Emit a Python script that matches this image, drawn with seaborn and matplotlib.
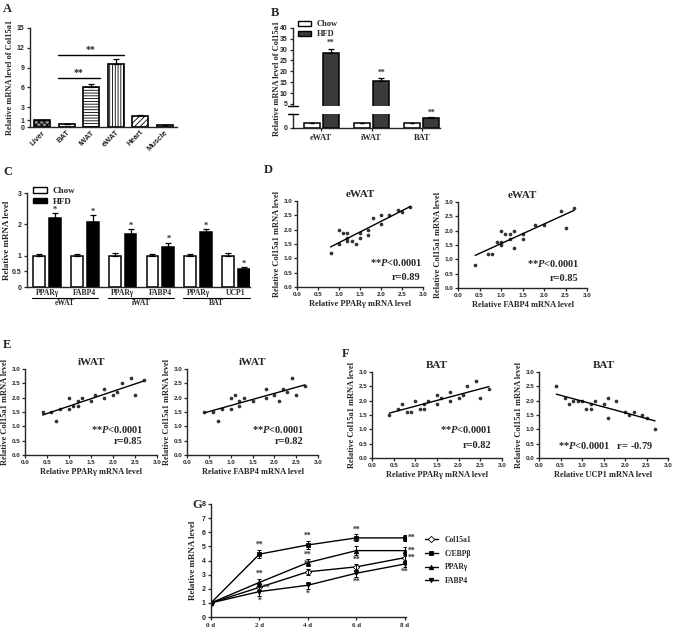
import matplotlib
matplotlib.use("Agg")
import matplotlib.pyplot as plt
import seaborn as sns
import numpy as np
import pandas as pd
from matplotlib.patches import Patch
from matplotlib.lines import Line2D
from matplotlib.transforms import blended_transform_factory

sns.set_theme(style="ticks")
plt.rcParams['font.family'] = ['Liberation Serif', 'DejaVu Serif']
plt.rcParams['font.weight'] = 'bold'
plt.rcParams['axes.labelweight'] = 'bold'
plt.rcParams['axes.titleweight'] = 'bold'
plt.rcParams['axes.linewidth'] = 1.0
plt.rcParams['hatch.linewidth'] = 0.6
plt.rcParams['xtick.major.size'] = 2.5
plt.rcParams['ytick.major.size'] = 2.5
plt.rcParams['xtick.major.width'] = 0.9
plt.rcParams['ytick.major.width'] = 0.9
plt.rcParams['xtick.major.pad'] = 1.5
plt.rcParams['ytick.major.pad'] = 1.5
plt.rcParams['mathtext.fontset'] = 'custom'
plt.rcParams['mathtext.it'] = 'Liberation Serif:italic:bold'
plt.rcParams['mathtext.rm'] = 'Liberation Serif:bold'

SANS = 'Liberation Sans'
HFD_GRAY = '#3a3a3a'

# ---- Panel A: tissue distribution of Col15a1
A_TISSUES = ['Liver', 'BAT', 'iWAT', 'eWAT', 'Heart', 'Muscle']
A_VALUES = [1.0, 0.4, 6.0, 9.5, 1.6, 0.3]
A_ERR = [0.1, 0.06, 0.45, 0.8, 0.15, 0.05]
A_HATCH = ['xxxxxx', '.....', '------', '||||||', '//////', '.....']
A_FILL = ['#8a8a8a', 'white', 'white', 'white', 'white', 'white']
A_YTICKS = [0, 1, 3, 6, 9, 12, 15]

# ---- Panel B: Chow vs HFD Col15a1
B_TISSUES = ['eWAT', 'iWAT', 'BAT']
B_CHOW = [1.0, 1.0, 1.0]
B_CHOW_ERR = [0.05, 0.05, 0.05]
B_HFD = [28.5, 15.5, 2.1]
B_HFD_ERR = [2.0, 1.2, 0.2]

# ---- Panel C: marker genes Chow vs HFD
C_DEPOTS = ['eWAT', 'iWAT', 'BAT']
C_GENES = ['PPARγ', 'FABP4', 'PPARγ', 'FABP4', 'PPARγ', 'UCP1']
C_CHOW = [1.0, 0.98, 0.99, 1.0, 0.98, 1.0]
C_CHOW_ERR = [0.05, 0.08, 0.08, 0.05, 0.08, 0.08]
C_HFD = [2.2, 2.08, 1.68, 1.27, 1.75, 0.57]
C_HFD_ERR = [0.16, 0.22, 0.17, 0.15, 0.1, 0.07]

# ---- Panels D-F: correlations with Col15a1
D1_X = [0.8, 1.0, 1.0, 1.1, 1.2, 1.2, 1.2, 1.3, 1.4, 1.5, 1.5, 1.7, 1.7, 1.8, 2.0, 2.0, 2.2, 2.4, 2.5, 2.7]
D1_Y = [1.2, 2.0, 1.5, 1.9, 1.9, 1.7, 1.6, 1.6, 1.5, 1.9, 1.7, 2.0, 1.8, 2.4, 2.5, 2.2, 2.5, 2.7, 2.6, 2.8]
D2_X = [0.4, 0.7, 0.8, 0.9, 1.0, 1.0, 1.0, 1.1, 1.2, 1.2, 1.3, 1.3, 1.5, 1.5, 1.8, 2.0, 2.4, 2.5, 2.7]
D2_Y = [0.8, 1.2, 1.2, 1.6, 2.0, 1.5, 1.6, 1.9, 1.9, 1.7, 2.0, 1.4, 1.9, 1.7, 2.2, 2.2, 2.7, 2.1, 2.8]
E1_X = [0.4, 0.6, 0.7, 0.8, 1.0, 1.0, 1.1, 1.2, 1.2, 1.3, 1.5, 1.6, 1.8, 1.8, 2.0, 2.1, 2.2, 2.4, 2.5, 2.7]
E1_Y = [1.5, 1.5, 1.2, 1.6, 2.0, 1.6, 1.7, 1.7, 1.9, 2.0, 1.9, 2.1, 2.3, 2.0, 2.1, 2.2, 2.5, 2.7, 2.1, 2.6]
E2_X = [0.4, 0.6, 0.7, 0.8, 1.0, 1.0, 1.1, 1.2, 1.2, 1.3, 1.5, 1.8, 1.8, 2.0, 2.1, 2.2, 2.3, 2.4, 2.5, 2.7]
E2_Y = [1.5, 1.5, 1.2, 1.6, 2.0, 1.6, 2.1, 1.7, 1.9, 2.0, 1.9, 2.3, 2.0, 2.1, 1.9, 2.3, 2.2, 2.7, 2.1, 2.4]
F1_X = [0.4, 0.6, 0.7, 0.8, 0.9, 1.0, 1.1, 1.2, 1.2, 1.3, 1.5, 1.5, 1.6, 1.8, 1.8, 2.0, 2.1, 2.2, 2.4, 2.5, 2.7]
F1_Y = [1.5, 1.7, 1.9, 1.6, 1.6, 2.0, 1.7, 1.7, 1.9, 2.0, 1.9, 2.2, 2.1, 2.3, 2.0, 2.1, 2.2, 2.5, 2.7, 2.1, 2.4]
F2_X = [0.4, 0.6, 0.7, 0.8, 0.9, 1.0, 1.1, 1.2, 1.2, 1.3, 1.5, 1.6, 1.6, 1.8, 2.0, 2.1, 2.2, 2.4, 2.5, 2.7]
F2_Y = [2.5, 2.1, 1.9, 2.0, 2.0, 2.0, 1.7, 1.7, 1.9, 2.0, 1.9, 2.1, 1.4, 2.0, 1.6, 1.5, 1.6, 1.5, 1.4, 1.0]

# ---- Panel G: differentiation time course
G_DAYS = [0, 2, 4, 6, 8]
G_DAY_LABELS = ['0 d', '2 d', '4 d', '6 d', '8 d']
G_GENES = ['Col15a1', 'C/EBPβ', 'PPARγ', 'FABP4']
G_COL15A1 = [1.0, 2.1, 3.2, 3.55, 4.2]
G_CEBPB = [1.0, 4.45, 5.1, 5.6, 5.6]
G_PPARG = [1.0, 2.45, 3.85, 4.7, 4.7]
G_FABP4 = [1.0, 1.8, 2.25, 3.1, 3.75]
G_COL15A1_ERR = [0.05, 0.2, 0.2, 0.2, 0.2]
G_CEBPB_ERR = [0.05, 0.3, 0.3, 0.25, 0.2]
G_PPARG_ERR = [0.05, 0.25, 0.25, 0.3, 0.25]
G_FABP4_ERR = [0.05, 0.3, 0.25, 0.25, 0.2]
G_MARKERS = ['D', 's', '^', 'v']
G_FACES = ['white', 'black', 'black', 'black']
# significance marks: (gene index, day index, text, where)
G_STARS = [(1, 1, '**', 'above'), (2, 1, '**', 'above'), (0, 1, '**', 'right'), (3, 1, '*', 'below'),
           (1, 2, '**', 'above'), (2, 2, '**', 'above'), (0, 2, '**', 'above'), (3, 2, '*', 'below'),
           (1, 3, '**', 'above'), (2, 3, '**', 'above'), (0, 3, '**', 'above'), (3, 3, '**', 'below'),
           (1, 4, '**', 'right'), (2, 4, '**', 'right'), (0, 4, '**', 'right'), (3, 4, '**', 'below')]

W, H = 675, 633
fig = plt.figure(figsize=(W / 100, H / 100), dpi=100)


def px_axes(x0, y0, x1, y1):
    """Axes placed by pixel box (left, top, right, bottom)."""
    return fig.add_axes([x0 / W, 1 - y1 / H, (x1 - x0) / W, (y1 - y0) / H])


def sans_ticks(ax, size=5, which='both'):
    labels = []
    if which in ('both', 'x'):
        labels += ax.get_xticklabels()
    if which in ('both', 'y'):
        labels += ax.get_yticklabels()
    for lab in labels:
        lab.set_family(SANS)
        lab.set_fontsize(size)
        lab.set_fontweight('bold')


def panel_label(x, y, s):
    fig.text(x / W, 1 - y / H, s, fontsize=9, fontweight='bold', ha='left', va='center')


def fig_ylabel(x, y, s, size=6):
    fig.text(x / W, 1 - y / H, s, rotation=90, ha='center', va='center',
             fontsize=size, fontweight='bold')


def up_errors(ax, bars, values, errs, cap=2.0):
    xs = [b.get_x() + b.get_width() / 2 for b in bars]
    ax.errorbar(xs, values, yerr=[np.zeros(len(values)), errs], fmt='none',
                ecolor='black', elinewidth=0.9, capsize=cap, capthick=0.9, zorder=1)
    return xs


def box_legend(ax, colors, anchor, size=6):
    handles = [Patch(facecolor=c, edgecolor='black', lw=1.0, label=lab)
               for lab, c in colors]
    ax.legend(handles=handles, loc='upper left', bbox_to_anchor=anchor, frameon=False,
              fontsize=size, handlelength=1.6, handleheight=0.55, handletextpad=0.6,
              labelspacing=0.25, borderpad=0, borderaxespad=0)


# ================= A
axA = px_axes(30, 28, 177, 127)
sns.barplot(x=A_TISSUES, y=A_VALUES, ax=axA, color='white', edgecolor='black',
            linewidth=1.2, width=0.66, errorbar=None)
for bar, h, fc in zip(axA.patches, A_HATCH, A_FILL):
    bar.set_hatch(h)
    bar.set_facecolor(fc)
xa = up_errors(axA, axA.patches, A_VALUES, A_ERR, cap=2.5)
axA.set_xlim(-0.5, 5.5)
axA.set_ylim(0, 15)
axA.set_yticks(A_YTICKS)
axA.set_ylabel('Relative mRNA level of Col15a1', fontsize=6, labelpad=2)
axA.tick_params(axis='x', length=0)
plt.setp(axA.get_xticklabels(), rotation=45, ha='right', rotation_mode='anchor')
sans_ticks(axA, 5, 'y')
sans_ticks(axA, 5.5, 'x')
sns.despine(ax=axA)
# significance brackets
for i_from, i_to, level in [(1, 2, 7.4), (1, 3, 10.9)]:
    x0, x1 = xa[i_from] - 0.37, xa[i_to] + 0.34
    axA.plot([x0, x1], [level, level], color='black', lw=1.0)
    axA.text((x0 + x1) / 2, level + 0.2, '**', ha='center', va='bottom', fontsize=7)
panel_label(3, 9, 'A')

# ================= B (broken axis)
dfB = pd.DataFrame({'tissue': B_TISSUES * 2,
                    'group': ['Chow'] * 3 + ['HFD'] * 3,
                    'value': B_CHOW + B_HFD})
axB_top = px_axes(293, 28, 440, 106)
axB_bot = px_axes(293, 114, 440, 128)
for ax in (axB_top, axB_bot):
    sns.barplot(data=dfB, x='tissue', y='value', hue='group', ax=ax,
                palette={'Chow': 'white', 'HFD': HFD_GRAY}, edgecolor='black',
                linewidth=1.1, width=0.76, gap=0.16, errorbar=None, legend=False)
    ax.set_xlim(-0.56, 2.36)
    ax.set_xlabel('')
    ax.set_ylabel('')
    sns.despine(ax=ax)
axB_top.set_ylim(4, 40)
axB_top.set_yticks(range(5, 41, 5))
axB_top.spines['bottom'].set_visible(False)
axB_top.tick_params(axis='x', which='both', bottom=False, labelbottom=False)
axB_bot.set_ylim(0, 3)
axB_bot.set_yticks([0, 3])
axB_bot.set_yticklabels(['0', ''])
sans_ticks(axB_top, 5, 'y')
sans_ticks(axB_bot, 5, 'y')
for lab in axB_bot.get_xticklabels():
    lab.set_fontsize(6)
hfd_top = axB_top.containers[1]
hfd_bot = axB_bot.containers[1]
xb = up_errors(axB_top, hfd_top, B_HFD, B_HFD_ERR)
up_errors(axB_bot, hfd_bot, B_HFD, B_HFD_ERR)
up_errors(axB_bot, axB_bot.containers[0], B_CHOW, B_CHOW_ERR, cap=1.5)
for i in range(2):
    axB_top.text(xb[i], B_HFD[i] + B_HFD_ERR[i] + 0.6, '**', ha='center', va='bottom', fontsize=5.5)
axB_bot.text(xb[2], B_HFD[2] + B_HFD_ERR[2] + 0.1, '**', ha='center', va='bottom', fontsize=5.5)
for ax, yy in ((axB_top, 0), (axB_bot, 1)):
    ax.plot([-0.035, 0.035], [yy, yy], transform=ax.transAxes, color='black', lw=1.0, clip_on=False)
box_legend(axB_top, [('Chow', 'white'), ('HFD', HFD_GRAY)], (0.035, 1.10), size=6)
fig_ylabel(277, 78, 'Relative mRNA level of Col15a1')
panel_label(271, 13, 'B')

# ================= C
slots = [f'{C_DEPOTS[i // 2]}-{g}' for i, g in enumerate(C_GENES)]
dfC = pd.DataFrame({'slot': slots * 2,
                    'group': ['Chow'] * 6 + ['HFD'] * 6,
                    'value': C_CHOW + C_HFD})
axC = px_axes(27, 193, 250, 287)
sns.barplot(data=dfC, x='slot', y='value', hue='group', ax=axC, order=slots,
            palette={'Chow': 'white', 'HFD': 'black'}, edgecolor='black',
            linewidth=1.1, width=0.84, gap=0.26, errorbar=None, legend=False)
up_errors(axC, axC.containers[0], C_CHOW, C_CHOW_ERR, cap=2.0)
xc = up_errors(axC, axC.containers[1], C_HFD, C_HFD_ERR, cap=2.0)
for x, v, e in zip(xc, C_HFD, C_HFD_ERR):
    axC.text(x, v + e - 0.02, '*', ha='center', va='bottom', fontsize=6)
axC.set_xlim(-0.53, 5.37)
axC.set_ylim(0, 3)
axC.set_yticks([0, 0.5, 1, 2, 3])
axC.set_yticklabels(['0', '0.5', '1', '2', '3'])
axC.set_xticks(range(6))
axC.set_xticklabels(C_GENES, fontsize=5.5)
axC.tick_params(axis='x', length=0, pad=1.5)
axC.set_xlabel('')
axC.set_ylabel('')
sans_ticks(axC, 5, 'y')
sns.despine(ax=axC)
trC = blended_transform_factory(axC.transData, axC.transAxes)
for i, depot in enumerate(C_DEPOTS):
    x0, x1 = 2 * i - 0.4, 2 * i + 1 + 0.36
    axC.plot([x0, x1], [-0.115, -0.115], transform=trC, color='black', lw=0.8, clip_on=False)
    axC.text((x0 + x1) / 2, -0.13, depot, transform=trC, ha='center', va='top', fontsize=5.5)
box_legend(axC, [('Chow', 'white'), ('HFD', 'black')], (0.025, 1.06), size=6.5)
fig_ylabel(7, 240, 'Relative mRNA level', size=6.5)
panel_label(3, 172, 'C')


# ================= D-F scatter panels
def scatter_panel(box, xs, ys, title, xlabel, texts):
    ax = px_axes(*box)
    sns.regplot(x=np.array(xs), y=np.array(ys), ax=ax, ci=None, color='black',
                scatter_kws={'s': 7, 'linewidths': 0}, line_kws={'lw': 1.0})
    ax.set_xlim(0, 3)
    ax.set_ylim(0, 3)
    ticks = np.arange(0, 3.01, 0.5)
    ax.set_xticks(ticks)
    ax.set_yticks(ticks)
    ax.set_xticklabels([f'{t:.1f}' for t in ticks])
    ax.set_yticklabels([f'{t:.1f}' for t in ticks])
    sans_ticks(ax, 4.5)
    ax.tick_params(length=2)
    ax.set_title(title, fontsize=8, pad=3)
    ax.set_xlabel(xlabel, fontsize=6, labelpad=2)
    ax.set_ylabel('Relative Col15a1 mRNA level', fontsize=6, labelpad=2)
    for (tx, ty, s, ha) in texts:
        ax.text(tx, ty, s, transform=ax.transAxes, ha=ha, va='center', fontsize=7.5)
    sns.despine(ax=ax)
    return ax


P_TXT = '**$P$<0.0001'
scatter_panel((297, 201, 423, 287), D1_X, D1_Y, 'eWAT', 'Relative PPARγ mRNA level',
              [(1.0, 0.28, P_TXT, 'right'), (0.98, 0.115, 'r=0.89', 'right')])
scatter_panel((458, 202, 587, 288), D2_X, D2_Y, 'eWAT', 'Relative FABP4 mRNA level',
              [(0.94, 0.28, P_TXT, 'right'), (0.93, 0.115, 'r=0.85', 'right')])
scatter_panel((25, 369, 157, 455), E1_X, E1_Y, 'iWAT', 'Relative PPARγ mRNA level',
              [(0.9, 0.30, P_TXT, 'right'), (0.89, 0.155, 'r=0.85', 'right')])
scatter_panel((187, 369, 318, 455), E2_X, E2_Y, 'iWAT', 'Relative FABP4 mRNA level',
              [(0.9, 0.30, P_TXT, 'right'), (0.89, 0.155, 'r=0.82', 'right')])
scatter_panel((372, 372, 502, 458), F1_X, F1_Y, 'BAT', 'Relative PPARγ mRNA level',
              [(0.93, 0.33, P_TXT, 'right'), (0.92, 0.14, 'r=0.82', 'right')])
scatter_panel((539, 372, 668, 458), F2_X, F2_Y, 'BAT', 'Relative UCP1 mRNA level',
              [(0.52, 0.14, P_TXT + '   r= -0.79', 'center')])
panel_label(264, 170, 'D')
panel_label(3, 345, 'E')
panel_label(342, 354, 'F')

# ================= G
axG = px_axes(211, 504, 406, 617)
g_vals = [G_COL15A1, G_CEBPB, G_PPARG, G_FABP4]
g_errs = [G_COL15A1_ERR, G_CEBPB_ERR, G_PPARG_ERR, G_FABP4_ERR]
handles = []
for gene, vals, errs, mk, fc in zip(G_GENES, g_vals, g_errs, G_MARKERS, G_FACES):
    sns.lineplot(x=G_DAYS, y=vals, ax=axG, color='black', lw=1.0, marker=mk,
                 markersize=3.2, markerfacecolor=fc, markeredgecolor='black',
                 markeredgewidth=0.6)
    axG.errorbar(G_DAYS, vals, yerr=errs, fmt='none', ecolor='black',
                 elinewidth=0.7, capsize=1.5, capthick=0.7)
    handles.append(Line2D([], [], color='black', lw=1.0, marker=mk, markersize=3.2,
                          markerfacecolor=fc, markeredgecolor='black', markeredgewidth=0.6,
                          label=gene))
for gi, di, s, where in G_STARS:
    x, v, e = G_DAYS[di], g_vals[gi][di], g_errs[gi][di]
    if where == 'above':
        axG.text(x, v + e + 0.05, s, ha='center', va='bottom', fontsize=5.5)
    elif where == 'below':
        axG.text(x, v - e - 0.05, s, ha='center', va='top', fontsize=5.5)
    else:
        axG.text(x + 0.12, v, s, ha='left', va='center', fontsize=5.5)
axG.set_xlim(0, 8.05)
axG.set_ylim(0, 8)
axG.set_yticks(range(0, 9))
axG.set_xticks(G_DAYS)
axG.set_xticklabels(G_DAY_LABELS, fontsize=5)
axG.set_ylabel('Relative mRNA level', fontsize=6.5, labelpad=3)
sans_ticks(axG, 5, 'y')
sns.despine(ax=axG)
axG.legend(handles=handles, loc='center left', bbox_to_anchor=(1.06, 0.5), frameon=False,
           fontsize=5.5, handlelength=1.8, labelspacing=0.75)
panel_label(192, 505, 'G')

fig.savefig('out.png', dpi=100)
